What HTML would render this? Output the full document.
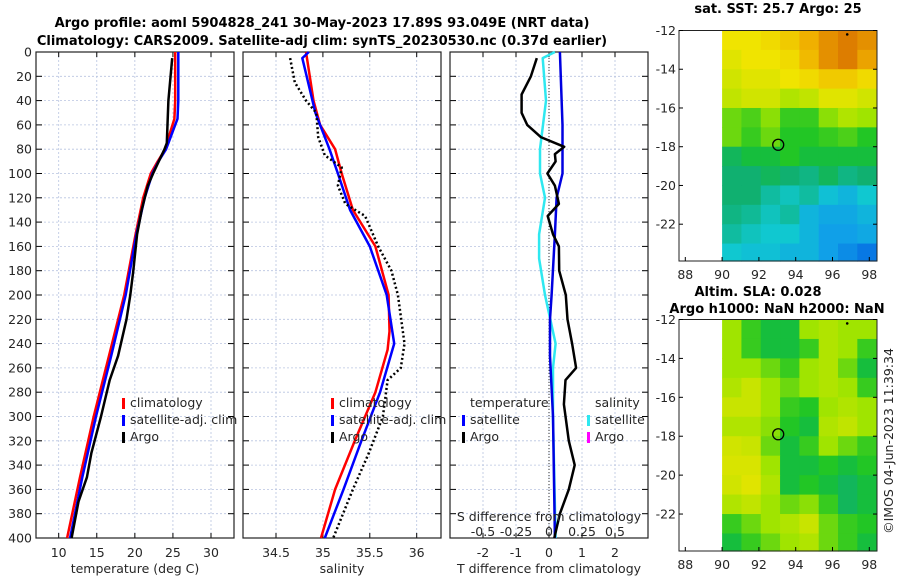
<!DOCTYPE html>
<html><head><meta charset="utf-8"><style>
body{margin:0;background:#fff;}
svg{display:block;font-family:"DejaVu Sans","Liberation Sans",sans-serif;}
.t{font-size:12.5px;fill:#262626;}
.b{font-size:13px;font-weight:bold;fill:#000;}
</style></head><body>
<svg id="fig" width="900" height="580" viewBox="0 0 900 580" xmlns="http://www.w3.org/2000/svg">
<text class="b" x="322" y="27" text-anchor="middle">Argo profile: aoml 5904828_241 30-May-2023 17.89S 93.049E (NRT data)</text>
<text class="b" x="322" y="45" text-anchor="middle">Climatology: CARS2009. Satellite-adj clim: synTS_20230530.nc (0.37d earlier)</text>
<text class="b" x="778" y="13" text-anchor="middle">sat. SST: 25.7 Argo: 25</text>
<text class="b" x="758" y="296" text-anchor="middle">Altim. SLA: 0.028</text>
<text class="b" x="777" y="313" text-anchor="middle">Argo h1000: NaN h2000: NaN</text>
<text class="t" transform="translate(893,441) rotate(-90)" text-anchor="middle">©IMOS 04-Jun-2023 11:39:34</text>
</svg>
<script>
// ---- data ----
const depthTicks=[0,20,40,60,80,100,120,140,160,180,200,220,240,260,280,300,320,340,360,380,400];
const tempTicks=[10,15,20,25,30];
const salTicks=[34.5,35,35.5,36];
const tdiffTicks=[-2,-1,0,1,2];
const sdiffTicks=[-0.5,-0.25,0,0.25,0.5];
const sdiffLabels=["-0.5","-0.25","0","0.25","0.5"];
const climTDepth=[0,40,55,65,80,90,100,120,150,200,250,300,350,400];
const climT=[25.3,25.3,25.2,24.7,24.0,23.0,22.1,21.1,20.1,18.6,16.6,14.6,12.8,11.1];
const satT=[25.7,25.7,25.6,25.0,24.1,23.1,22.3,21.3,20.2,18.8,16.9,14.9,13.1,11.5];
const argoTDepth=[5,40,75,80,100,110,130,150,180,200,220,250,270,300,330,350,370,400];
const argoT=[24.9,24.4,24.2,23.9,22.4,21.7,20.9,20.3,19.8,19.4,18.9,17.8,16.7,15.55,14.3,13.7,12.6,11.7];
const climSDepth=[0,10,40,60,80,100,130,160,200,230,245,280,320,360,400];
const climS=[34.82,34.84,34.9,34.97,35.13,35.2,35.32,35.56,35.70,35.71,35.69,35.56,35.34,35.13,34.98];
const satSDepth=[0,5,50,80,100,130,160,200,240,280,320,360,400];
const satS=[34.85,34.78,34.92,35.07,35.16,35.29,35.5,35.68,35.76,35.61,35.41,35.22,35.02];
const argoSDepth=[5,25,40,50,70,85,95,110,125,135,160,180,200,240,260,270,300,330,360,400];
const argoS=[34.65,34.7,34.82,34.93,34.95,35.02,35.2,35.16,35.24,35.45,35.59,35.73,35.8,35.87,35.83,35.69,35.64,35.49,35.32,35.11];
const satTdDepth=[0,60,100,120,150,200,220,250,300,400];
const satTd=[0.33,0.41,0.41,0.23,0.18,0.08,0.03,0.03,0.12,0.18];
const argoTdDepth=[5,20,35,50,60,70,78,84,90,100,110,125,135,150,160,180,200,220,240,260,270,290,320,340,360,380,400];
const argoTd=[-0.37,-0.55,-0.83,-0.83,-0.66,-0.25,0.46,0.18,0.2,-0.05,0.18,0.3,-0.04,0.12,0.3,0.31,0.51,0.56,0.7,0.82,0.5,0.45,0.6,0.78,0.6,0.33,0.16];
const satSdDepth=[0,5,40,80,100,120,150,170,200,220,240,260,300,400];
const satSd=[0.045,-0.048,-0.023,-0.068,-0.068,-0.03,-0.075,-0.075,-0.03,0.01,0.05,0.03,0.03,0.05];
const lonTicks=[88,90,92,94,96,98];
const latTicks=[-12,-14,-16,-18,-20,-22];
const sstGrid=[
[0.7,0.7,0.72,0.75,0.8,0.85,0.88,0.85],
[0.68,0.7,0.7,0.72,0.78,0.85,0.88,0.82],
[0.66,0.68,0.68,0.7,0.72,0.75,0.75,0.72],
[0.64,0.66,0.66,0.62,0.64,0.68,0.68,0.66],
[0.55,0.52,0.58,0.5,0.5,0.58,0.62,0.6],
[0.55,0.5,0.55,0.48,0.48,0.5,0.52,0.48],
[0.42,0.45,0.45,0.48,0.45,0.45,0.45,0.45],
[0.4,0.4,0.42,0.4,0.38,0.42,0.38,0.4],
[0.4,0.4,0.35,0.32,0.35,0.28,0.25,0.3],
[0.38,0.36,0.32,0.35,0.25,0.22,0.22,0.25],
[0.35,0.32,0.3,0.3,0.25,0.2,0.2,0.22],
[0.3,0.28,0.28,0.25,0.25,0.2,0.15,0.1]];
const slaGrid=[
[0.6,0.5,0.45,0.45,0.6,0.62,0.6,0.6],
[0.6,0.5,0.45,0.45,0.5,0.62,0.6,0.5],
[0.6,0.6,0.55,0.5,0.6,0.62,0.55,0.45],
[0.62,0.65,0.6,0.55,0.6,0.62,0.6,0.5],
[0.65,0.65,0.6,0.5,0.48,0.6,0.62,0.6],
[0.62,0.62,0.58,0.48,0.45,0.62,0.64,0.6],
[0.66,0.65,0.55,0.45,0.5,0.6,0.55,0.5],
[0.67,0.67,0.6,0.45,0.45,0.48,0.45,0.48],
[0.66,0.68,0.62,0.45,0.48,0.45,0.42,0.45],
[0.62,0.64,0.6,0.55,0.58,0.5,0.42,0.45],
[0.5,0.55,0.6,0.62,0.65,0.55,0.5,0.48],
[0.45,0.5,0.55,0.6,0.62,0.55,0.5,0.45]];
const argoLon=93.05, argoLat=-17.9;

// ---- helpers ----
const svg=document.getElementById('fig');
const NS='http://www.w3.org/2000/svg';
function mk(tag,attrs,parent){const e=document.createElementNS(NS,tag);for(const k in attrs)e.setAttribute(k,attrs[k]);(parent||svg).appendChild(e);return e;}
const Y0=52,Y1=538;
const yD=d=>Y0+(d/400)*(Y1-Y0);
function lin(d0,d1,r0,r1){return v=>r0+(v-d0)/(d1-d0)*(r1-r0);}

function panel(name,x0,x1,xs,ticks,labels,title,showY){
  const g=mk('g',{});
  
  
  ticks.forEach((t,i)=>{
    const x=xs(t);
    const gl=mk('line',{x1:x,x2:x,y1:Y0,y2:Y1,stroke:'#b8c4e0','stroke-width':0.8,'stroke-dasharray':'2,2'},g);
    
    
    mk('line',{x1:x,x2:x,y1:Y1,y2:Y1-5,stroke:'#000'},g);
    mk('line',{x1:x,x2:x,y1:Y0,y2:Y0+5,stroke:'#000'},g);
    const tx=mk('text',{x:x,y:Y1+19,'text-anchor':'middle',class:'t'},g);
    tx.textContent=labels[i];
    
    
  });
  depthTicks.forEach(d=>{
    const y=yD(d);
    const gl=mk('line',{x1:x0,x2:x1,y1:y,y2:y,stroke:'#b8c4e0','stroke-width':0.8,'stroke-dasharray':'2,2'},g);
    
    
    mk('line',{x1:x0,x2:x0+6,y1:y,y2:y,stroke:'#000'},g);
    mk('line',{x1:x1,x2:x1-6,y1:y,y2:y,stroke:'#000'},g);
    if(showY){const tx=mk('text',{x:x0-4,y:y+4.5,'text-anchor':'end',class:'t'},g);tx.textContent=d;
      
      }
  });
  const fr=mk('rect',{x:x0,y:Y0,width:x1-x0,height:Y1-Y0,fill:'none',stroke:'#222','stroke-width':1.2},g);
  
  
  const at=mk('text',{x:(x0+x1)/2,y:573,'text-anchor':'middle',class:'t'},g);
  at.textContent=title;
  
  
  return g;
}
function series(name,g,xs,vals,depths,color,w,dash){
  const pts=vals.map((v,i)=>xs(v).toFixed(1)+','+yD(depths[i]).toFixed(1)).join(' ');
  const p=mk('polyline',{points:pts,fill:'none',stroke:color,'stroke-width':w,'stroke-linejoin':'round'},g);
  if(dash)p.setAttribute('stroke-dasharray',dash);
  
  
}
function legend(g,x,y,color,label,name){
  const m=mk('rect',{x:x,y:y-9,width:3,height:11,fill:color},g);
  
  
  const t=mk('text',{x:x+8,y:y,class:'t'},g);
  t.textContent=label;
  
  
}
const LY=[407,424,441];

// panel 1 temperature
const xT=lin(10,30,58.7,211);
const p1=panel('temperature-panel',36,234,xT,tempTicks,tempTicks.map(String),'temperature (deg C)',true);
series('climatology-temperature-line',p1,xT,climT,climTDepth,'#f00',2.5);
series('satellite-temperature-line',p1,xT,satT,climTDepth,'#00f',2.5);
series('argo-temperature-line',p1,xT,argoT,argoTDepth,'#000',2.5);
legend(p1,122,LY[0],'#f00','climatology','legend-climatology');
legend(p1,122,LY[1],'#00f','satellite-adj. clim','legend-satellite');
legend(p1,122,LY[2],'#000','Argo','legend-argo');

// panel 2 salinity
const xS=lin(34.5,36,276,416.7);
const p2=panel('salinity-panel',243,441,xS,salTicks,['34.5','35','35.5','36'],'salinity',false);
series('climatology-salinity-line',p2,xS,climS,climSDepth,'#f00',2.5);
series('satellite-salinity-line',p2,xS,satS,satSDepth,'#00f',2.5);
series('argo-salinity-line',p2,xS,argoS,argoSDepth,'#000',2.5,'2,2.5');
legend(p2,331,LY[0],'#f00','climatology','legend-climatology');
legend(p2,331,LY[1],'#00f','satellite-adj. clim','legend-satellite');
legend(p2,331,LY[2],'#000','Argo','legend-argo');

// panel 3 differences
const xTd=lin(0,1,549,582);
const xSd=v=>xTd(v*4);
const p3=panel('difference-panel',450,648,xTd,tdiffTicks,tdiffTicks.map(String),'T difference from climatology',false);
const zl=mk('line',{x1:xTd(0),x2:xTd(0),y1:Y0,y2:Y1,stroke:'#333','stroke-width':1,'stroke-dasharray':'1,2'},p3);


series('satellite-salinity-diff-line',p3,xSd,satSd,satSdDepth,'#2ee8f0',2.5);
series('satellite-temperature-diff-line',p3,xTd,satTd,satTdDepth,'#0000e0',2.5);
series('argo-temperature-diff-line',p3,xTd,argoTd,argoTdDepth,'#000',2.5);
const tl=mk('text',{x:470,y:LY[0],class:'t'},p3);tl.textContent='temperature';


legend(p3,462,LY[1],'#00f','satellite','legend-temperature-satellite');
legend(p3,462,LY[2],'#000','Argo','legend-temperature-argo');
const sl=mk('text',{x:595,y:LY[0],class:'t'},p3);sl.textContent='salinity';


legend(p3,587,LY[1],'#2ee8f0','satellite','legend-salinity-satellite');
legend(p3,587,LY[2],'#f0f','Argo','legend-salinity-argo');
const st=mk('text',{x:549,y:521,'text-anchor':'middle',class:'t'},p3);st.textContent='S difference from climatology';


sdiffTicks.forEach((v,i)=>{const t=mk('text',{x:xSd(v),y:536,'text-anchor':'middle',class:'t'},p3);t.textContent=sdiffLabels[i];
  
  });

// maps
const stops=[[0,[0,80,224]],[0.2,[16,160,232]],[0.3,[16,200,208]],[0.4,[16,176,112]],[0.47,[24,196,40]],[0.6,[160,228,0]],[0.7,[240,228,0]],[0.8,[240,176,0]],[0.9,[216,112,0]]];
function cmap(v){for(let i=1;i<stops.length;i++){if(v<=stops[i][0]){const a=stops[i-1],b=stops[i],f=(v-a[0])/(b[0]-a[0]);return 'rgb('+a[1].map((c,k)=>Math.round(c+f*(b[1][k]-c))).join(',')+')';}}return 'rgb(216,112,0)';}
function map(name,grid,top,bottom,lonLabY){
  const g=mk('g',{});
  
  
  const x0=679,x1=877;
  const xL=lin(88,98,685.3,869.3);
  const yL=lin(-12,-22,top,top+(bottom-top)*(10/11.9));
  const cols=grid[0].length;
  const lonStep=(98.4-90)/cols;
  grid.forEach((row,r)=>row.forEach((v,c)=>{
    const xa=xL(90+c*lonStep),xb=xL(90+(c+1)*lonStep),ya=yL(-12-r),yb=Math.min(yL(-13-r),bottom);
    const cell=mk('rect',{x:xa,y:ya,width:xb-xa+0.6,height:yb-ya+0.6,fill:cmap(v)},g);
    
    
  }));
  mk('rect',{x:x0,y:top,width:x1-x0,height:bottom-top,fill:'none',stroke:'#222','stroke-width':1},g);
  lonTicks.forEach(l=>{const x=xL(l);mk('line',{x1:x,x2:x,y1:bottom,y2:bottom-4,stroke:'#000'},g);
    const t=mk('text',{x:x,y:lonLabY,'text-anchor':'middle',class:'t'},g);t.textContent=l;
    
    });
  latTicks.forEach(l=>{const y=yL(l);mk('line',{x1:x0,x2:x0+4,y1:y,y2:y,stroke:'#000'},g);mk('line',{x1:x1,x2:x1-4,y1:y,y2:y,stroke:'#000'},g);
    const t=mk('text',{x:x0-3,y:y+4.5,'text-anchor':'end',class:'t'},g);t.textContent=l;
    
    });
  const c=mk('circle',{cx:xL(argoLon),cy:yL(argoLat),r:5.5,fill:'none',stroke:'#000','stroke-width':1.3},g);
  
  
  mk('circle',{cx:xL(96.8),cy:yL(-12.2),r:1.3,fill:'#000'},g);
}
map('sst-map',sstGrid,30.5,261,279);
map('sla-map',slaGrid,319.5,551,569);
</script>
</body></html>
